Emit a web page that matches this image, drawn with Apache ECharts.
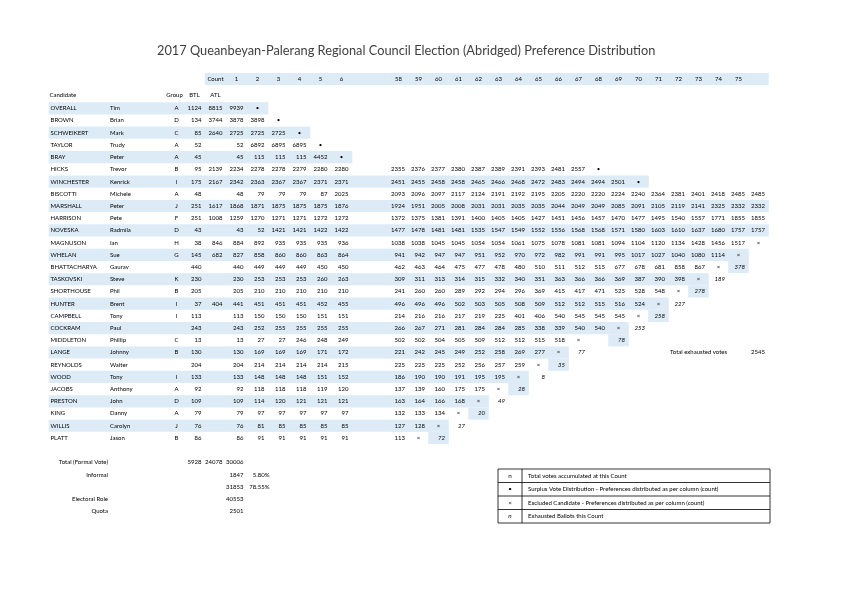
<!DOCTYPE html>
<html><head><meta charset="utf-8">
<script src="https://cdn.jsdelivr.net/npm/echarts@6/dist/echarts.min.js"></script>
<style>html,body{margin:0;padding:0;background:#fff}#c{width:842px;height:595px}</style>
</head><body><div id="c"></div>
<script>
// ---------------- DATA ----------------
const titleText = '2017 Queanbeyan-Palerang Regional Council Election (Abridged) Preference Distribution';
const surnames = ['OVERALL','BROWN','SCHWEIKERT','TAYLOR','BRAY','HICKS','WINCHESTER','BISCOTTI','MARSHALL','HARRISON','NOVESKA','MAGNUSON','WHELAN','BHATTACHARYA','TASKOVSKI','SHORTHOUSE','HUNTER','CAMPBELL','COCKRAM','MIDDLETON','LANGE','REYNOLDS','WOOD','JACOBS','PRESTON','KING','WILLIS','PLATT'];
const firstNames = ['Tim','Brian','Mark','Trudy','Peter','Trevor','Kenrick','Michele','Peter','Pete','Radmila','Ian','Sue','Gaurav','Steve','Phil','Brent','Tony','Paul','Phillip','Johnny','Walter','Tony','Anthony','John','Danny','Carolyn','Jason'];
const groups = ['A','D','C','A','A','B','I','A','J','F','D','H','G','','K','B','I','I','','C','B','','I','A','D','A','J','B'];
const btl = [1124,134,85,52,45,95,175,48,251,251,43,38,145,440,230,205,37,113,243,13,130,204,133,92,109,79,76,86];
const atl = [8815,3744,2640,'','',2139,2167,'',1617,1008,'',846,682,'','','',404,'','','','','','','','','','',''];
const count1 = [9939,3878,2725,52,45,2234,2342,48,1868,1259,43,884,827,440,230,205,441,113,243,13,130,204,133,92,109,79,76,86];
const count2 = ['•',3898,2725,6892,115,2278,2363,79,1871,1270,52,892,858,449,253,210,451,150,252,27,169,214,148,118,114,97,81,91];
const count3 = ['','•',2725,6895,115,2278,2367,79,1875,1271,1421,935,860,449,253,210,451,150,255,27,169,214,148,118,120,97,85,91];
const count4 = ['','','•',6895,115,2279,2367,79,1875,1271,1421,935,860,449,253,210,451,150,255,246,169,214,148,118,121,97,85,91];
const count5 = ['','','','•',4452,2280,2371,87,1875,1272,1422,935,863,450,260,210,452,151,255,248,171,214,151,119,121,97,85,91];
const count6 = ['','','','','•',2280,2371,2025,1876,1272,1422,936,864,450,263,210,455,151,255,249,172,215,152,120,121,97,85,91];
// counts 58..76 per candidate ('~n' = exhausted ballots)
const lateCounts = [
 [], [], [], [], [],
 [2355,2376,2377,2380,2387,2389,2391,2393,2481,2557,'•'],
 [2451,2455,2458,2458,2465,2466,2468,2472,2483,2494,2494,2501,'•'],
 [2093,2096,2097,2117,2124,2191,2192,2195,2205,2220,2220,2224,2240,2364,2381,2401,2418,2485,2485],
 [1924,1951,2005,2008,2031,2031,2035,2035,2044,2049,2049,2085,2091,2105,2119,2141,2325,2332,2332],
 [1372,1375,1381,1391,1400,1405,1405,1427,1451,1456,1457,1470,1477,1495,1540,1557,1771,1855,1855],
 [1477,1478,1481,1481,1535,1547,1549,1552,1556,1568,1568,1571,1580,1603,1610,1637,1680,1757,1757],
 [1038,1038,1045,1045,1054,1054,1061,1075,1078,1081,1081,1094,1104,1120,1134,1428,1456,1517,'×'],
 [941,942,947,947,951,952,970,972,982,991,991,995,1017,1027,1040,1080,1114,'×'],
 [462,463,464,475,477,478,480,510,511,512,515,677,678,681,858,867,'×','~378'],
 [309,311,313,314,315,332,340,351,363,366,366,369,387,390,398,'×','~189'],
 [241,260,260,289,292,294,296,369,415,417,471,525,528,548,'×','~278'],
 [496,496,496,502,503,505,508,509,512,512,515,516,524,'×','~227'],
 [214,216,216,217,219,225,401,406,540,545,545,545,'×','~258'],
 [266,267,271,281,284,284,285,338,339,540,540,'×','~253'],
 [502,502,504,505,509,512,512,515,518,'×','','~78'],
 [221,242,245,249,252,258,269,277,'×','~77'],
 [225,225,225,252,256,257,259,'×','~35'],
 [186,190,190,191,195,195,'×','~8'],
 [137,139,160,175,175,'×','~28'],
 [163,164,166,168,'×','~49'],
 [132,133,134,'×','~20'],
 [127,128,'×','~27'],
 [113,'×','~72']
];
const headLeft = [null,'Count','1','2','3','4','5','6'];
const headRight = ['58','59','60','61','62','63','64','65','66','67','68','69','70','71','72','73','74','75',''];
const subLeft = ['BTL','ATL','','','','','',''];
const footerLabels = ['Total (Formal Vote)','Informal','','Electoral Role','Quota'];
const footerBTL = [5928,'','','',''];
const footerATL = [24078,'','','',''];
const footerC1 = [30006,1847,31853,40553,2501];
const footerC2 = ['','5.80%','78.55%','',''];
const exhaustedLabel = 'Total exhausted votes';
const exhaustedTotal = 2545;
const exhaustedRow = 20;
const keySymbols = ['n','•','×','n'];
const keyTexts = ['Total votes accumulated at this Count','Surplus Vote Distribution - Preferences distributed as per column (count)','Excluded Candidate - Preferences distributed as per column (count)','Exhausted Ballots this Count'];

// ---------------- STYLE / LAYOUT ----------------
const FONT = 'Lato, "Open Sans", sans-serif';
const FS = 6.0;
const SHADE = '#ddebf7';
const ROW_H = 12.21, TOP = 102.2;
const NC = surnames.length;
const FOOT0 = NC + 1;
const NROWS = FOOT0 + footerLabels.length;
const PAD = 3.5;
const blocks = [
  {left:49, width:135, n:1, head:[null], sub:['Candidate|Group']},
  {left:184, width:168, n:8, head:headLeft, sub:subLeft},
  {left:352, width:36.5, n:1, head:[''], sub:['']},
  {left:388.5, width:380, n:19, head:headRight, sub:null}
];

const isEmpty = v => v === '' || v === null || v === undefined;
const cells = [[],[],[],[]];
for (let r = 0; r < NC; r++) {
  const shadeRow = r % 2 === 0;
  const late = lateCounts[r];
  const hasLate = late.length > 0;
  cells[0].push({col:0,row:r,kind:'name',s:surnames[r],f:firstNames[r],g:groups[r],shade:shadeRow});
  const left = [btl[r], atl[r], count1[r], count2[r], count3[r], count4[r], count5[r], count6[r]];
  let last = -1; left.forEach((v,i)=>{ if(!isEmpty(v)) last=i; });
  left.forEach((v,c)=>cells[1].push({col:c,row:r,v:v,shade:shadeRow && (hasLate || c<=last)}));
  cells[2].push({col:0,row:r,v:'',shade:shadeRow && hasLate});
  let lastB = -1; late.forEach((v,i)=>{ if(!isEmpty(v) && !(typeof v==='string' && v[0]==='~')) lastB=i; });
  for (let c = 0; c < 19; c++) {
    const v = c < late.length ? late[c] : '';
    const exh = typeof v === 'string' && v[0] === '~';
    cells[3].push({col:c,row:r,v:v,shade: exh ? !shadeRow : (shadeRow && c<=lastB)});
  }
}
footerLabels.forEach((lab,k)=>{
  const r = FOOT0 + k;
  cells[0].push({col:0,row:r,kind:'footer',text:lab,shade:false});
  [footerBTL[k], footerATL[k], footerC1[k], footerC2[k]].forEach((v,c)=>cells[1].push({col:c,row:r,v:v,shade:false,kind: c===3 ? 'pct' : undefined}));
});
cells[3].push({col:14,row:exhaustedRow,v:exhaustedLabel,kind:'lefttext',shade:false});
cells[3].push({col:18,row:exhaustedRow,v:exhaustedTotal,shade:false});

function txt(x,y,t,align,italic){
  return {type:'text', x:x, y:y, z2:10, style:{text:String(t), fill:'#000', fontSize:FS, fontFamily:FONT, fontStyle: italic?'italic':'normal',
    align:align, verticalAlign:'middle', textAlign:align, textVerticalAlign:'middle'}};
}
function makeRender(b){
  return function(params, api){
    const c = cells[b][api.value(2)];
    const p = api.coord([api.value(0), api.value(1)]);
    const s = api.size([1,1]);
    const x0 = p[0]-s[0]/2, y0 = p[1]-s[1]/2;
    const ch = [];
    if (c.shade) ch.push({type:'rect', z2:0, shape:{x:x0-0.3,y:y0,width:s[0]+0.6,height:s[1]}, style:{fill:SHADE}});
    if (c.kind === 'name') {
      ch.push(txt(x0+1.5,p[1],c.s,'left'));
      ch.push(txt(x0+61,p[1],c.f,'left'));
      if (c.g) ch.push(txt(x0+127.5,p[1],c.g,'center'));
    } else if (c.kind === 'footer') {
      if (c.text) ch.push(txt(x0+59,p[1],c.text,'right'));
    } else if (c.kind === 'lefttext') {
      ch.push(txt(x0+1.5,p[1],c.v,'left'));
    } else if (c.kind === 'pct') {
      if (!isEmpty(c.v)) ch.push(txt(x0+s[0]+1.5,p[1],c.v,'right'));
    } else if (!isEmpty(c.v)) {
      const v = c.v;
      if (v === '•' || v === '×') ch.push(txt(p[0],p[1],v,'center'));
      else if (typeof v === 'string' && v[0] === '~') ch.push(txt(x0+s[0]-PAD,p[1],v.slice(1),'right',true));
      else ch.push(txt(x0+s[0]-PAD,p[1],v,'right'));
    }
    return {type:'group', children:ch};
  };
}

const grids = [], xAxes = [], yAxes = [], series = [];
const rowIdx = Array.from({length:NROWS},(_,i)=>String(i));
blocks.forEach((b,g)=>{
  const cw = b.width / b.n;
  grids.push({left:b.left, top:TOP, width:b.width, height:ROW_H*NROWS});
  const colIdx = Array.from({length:b.n},(_,i)=>String(i));
  xAxes.push({gridIndex:g, type:'category', position:'top', data:colIdx, axisLine:{show:false}, axisTick:{show:false}, splitLine:{show:false},
    axisLabel:{interval:0, margin:17.2, formatter:(v,i)=>{ const t=b.head[i]; return t===null||t===undefined ? '' : '{b|'+(t===''?' ':t)+'}'; },
      rich:{b:{width:cw+0.4, height:12, lineHeight:12, backgroundColor:SHADE, align:'center', fontSize:FS, fontFamily:FONT, color:'#000'}}}});
  xAxes.push({gridIndex:g, type:'category', position:'top', data:colIdx, axisLine:{show:false}, axisTick:{show:false}, splitLine:{show:false},
    axisLabel:{interval:0, margin:3.2, show: !!b.sub, formatter:(v,i)=>{
        if(!b.sub) return '';
        const t=b.sub[i]; if(!t) return '';
        if (t.indexOf('|')>=0){ const q=t.split('|'); return '{c|'+q[0]+'}{g|'+q[1]+'}'; }
        return '{s|'+t+'}'; },
      rich:{c:{width:115, align:'left', padding:[0,0,0,1], fontSize:FS, fontFamily:FONT, color:'#000', lineHeight:8},
            g:{width:20, align:'center', fontSize:FS, fontFamily:FONT, color:'#000', lineHeight:8},
            s:{fontSize:FS, fontFamily:FONT, color:'#000', lineHeight:8}}}});
  yAxes.push({gridIndex:g, type:'category', inverse:true, data:rowIdx, show:false});
  series.push({type:'custom', xAxisIndex:2*g, yAxisIndex:g, silent:true, clip:false, animation:false,
    data: cells[g].map((c,i)=>[c.col, c.row, i]), renderItem: makeRender(g)});
});

// key box
const KX=498, KY=469, KW=272, KRH=13.5, KSW=24;
const graphic = [{type:'rect', shape:{x:KX,y:KY,width:KW,height:KRH*4}, style:{fill:'none',stroke:'#000',lineWidth:0.8}},
  {type:'line', shape:{x1:KX+KSW,y1:KY,x2:KX+KSW,y2:KY+KRH*4}, style:{stroke:'#000',lineWidth:0.8}}];
keyTexts.forEach((t,i)=>{
  if(i>0) graphic.push({type:'line', shape:{x1:KX,y1:KY+KRH*i,x2:KX+KW,y2:KY+KRH*i}, style:{stroke:'#000',lineWidth:0.8}});
  graphic.push({type:'text', x:KX+KSW/2, y:KY+KRH*(i+0.5), style:{text:keySymbols[i], fill:'#000', fontSize:FS+0.4, fontFamily:FONT, fontStyle:i===3?'italic':'normal', align:'center', verticalAlign:'middle', textAlign:'center', textVerticalAlign:'middle'}});
  graphic.push({type:'text', x:KX+KSW+6, y:KY+KRH*(i+0.5), style:{text:t, fill:'#000', fontSize:FS, fontFamily:FONT, align:'left', verticalAlign:'middle', textAlign:'left', textVerticalAlign:'middle'}});
});

const chart = echarts.init(document.getElementById('c'));
chart.setOption({
  animation:false,
  backgroundColor:'#fff',
  title:{text:titleText, left:152, top:39, textStyle:{fontFamily:FONT, fontSize:12.8, fontWeight:'normal', color:'#3f3f3f'}},
  grid:grids, xAxis:xAxes, yAxis:yAxes, series:series, graphic:graphic
});
</script></body></html>
